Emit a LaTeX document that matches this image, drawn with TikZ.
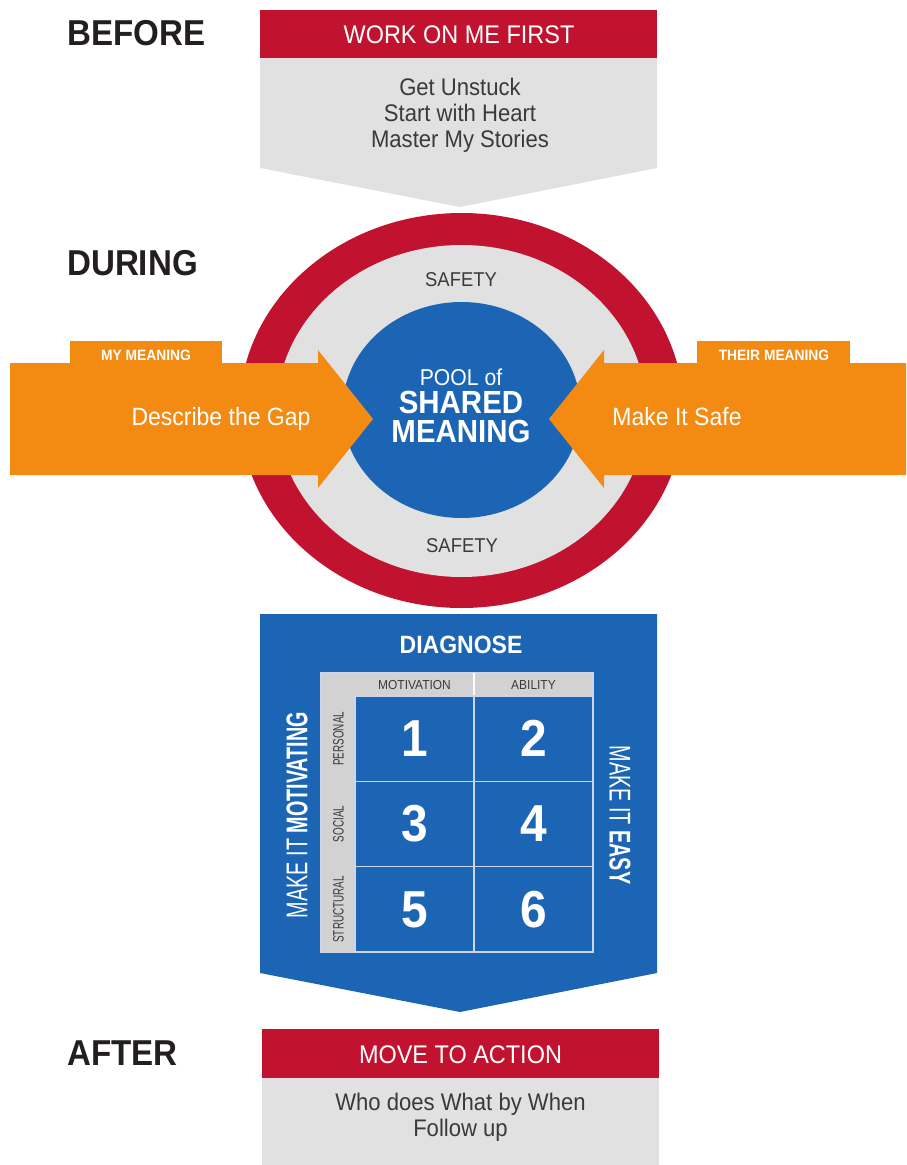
\documentclass[tikz,border=0pt]{standalone}
\usepackage{fontspec}
\setmainfont{Liberation Sans}[FakeStretch=0.92]
\newfontfamily\narrowfont{Liberation Sans}[FakeStretch=0.66]
\usetikzlibrary{positioning,calc}

\definecolor{talkred}{RGB}{193,19,47}
\definecolor{softgrey}{RGB}{225,225,225}
\definecolor{poolblue}{RGB}{28,101,181}
\definecolor{meanorange}{RGB}{243,139,19}
\definecolor{ink}{RGB}{35,31,32}
\definecolor{bodygrey}{RGB}{58,58,58}
\definecolor{headgrey}{RGB}{210,210,210}
\definecolor{cellline}{RGB}{205,214,232}

\newcommand{\fsz}[1]{\fontsize{#1}{#1}\selectfont}

\begin{document}
\begin{tikzpicture}[x=1pt,y=-1pt,
    stage/.style={anchor=base west,inner sep=0,text=ink,font=\bfseries\fsz{36}},
    banner/.style={anchor=base,inner sep=0,text=white,font=\fsz{25.5}},
    body/.style={anchor=base,inner sep=0,text=bodygrey,font=\fsz{24}},
    tab/.style={anchor=base,inner sep=0,text=white,font=\bfseries\fsz{15}},
    side/.style={anchor=base,inner sep=0,text=white,font=\fsz{25}},
    safety/.style={inner sep=0,text=bodygrey,font=\fsz{20}},
    axis/.style={inner sep=0,text=bodygrey,font=\fsz{13}},
    rowlab/.style={inner sep=0,text=bodygrey,font=\narrowfont\fsz{15},rotate=90},
    cell/.style={draw=cellline,line width=1.2pt,fill=poolblue,minimum width=119,
      minimum height=85.33,inner sep=0,text=white,font=\bfseries\fsz{52}},
    slogan/.style={inner sep=0,text=white,font=\narrowfont\fsz{30}}]
\useasboundingbox (0,0) rectangle (906,1165);

% before
\node[stage] (before) at (67,45) {BEFORE};
\fill[talkred] (260,10) rectangle (657,58);
\fill[softgrey] (260,58) -- (657,58) -- (657,168) -- (460,207) -- (260,168) -- cycle;
\node[banner] (workfirst) at (459,43) {WORK ON ME FIRST};
\node[body] (unstuck) at (460,95) {Get Unstuck};
\node[body] (heart) at (460,121) {Start with Heart};
\node[body] (stories) at (460,147) {Master My Stories};

% during
\node[stage] (during) at (67,275) {DURING};
\fill[talkred] (461.5,410.5) ellipse [x radius=222, y radius=197.5];
\fill[softgrey] (461.5,411) ellipse [x radius=185, y radius=166];
\fill[poolblue] (461.5,410) ellipse [x radius=119, y radius=108];
\node[safety] (safetytop) at (461,280) {SAFETY};
\node[safety] (safetybot) at (462,546) {SAFETY};

% my meaning / their meaning
\fill[meanorange] (70,341) rectangle (222,364);
\fill[meanorange] (10,363) -- (318,363) -- (318,350) -- (373,419) -- (318,488)
  -- (318,475) -- (10,475) -- cycle;
\fill[meanorange] (697,341) rectangle (850,364);
\fill[meanorange] (906,363) -- (604,363) -- (604,350) -- (549,419) -- (604,488)
  -- (604,475) -- (906,475) -- cycle;
\node[tab] (mymean) at (146,360) {MY MEANING};
\node[tab] (theirmean) at (774,360) {THEIR MEANING};
\node[side] (gap) at (221,425) {Describe the Gap};
\node[side] (safe) at (677,425) {Make It Safe};

% pool
\node[anchor=base,inner sep=0,text=white,font=\fsz{23}] (pool) at (461,385) {POOL of};
\node[anchor=base,inner sep=0,text=white,font=\bfseries\fsz{32}] (shared) at (461,413) {SHARED};
\node[anchor=base,inner sep=0,text=white,font=\bfseries\fsz{32}] (meaning) at (461,442) {MEANING};

% diagnose
\fill[poolblue] (260,614) -- (657,614) -- (657,973) -- (460,1012) -- (260,973) -- cycle;
\node[anchor=base,inner sep=0,text=white,font=\bfseries\fsz{25}] (diagnose) at (461,653) {DIAGNOSE};
\fill[headgrey] (321,673) rectangle (593,952);
\draw[cellline,line width=1.2pt] (321,673) rectangle (593,952);
\draw[white,line width=1.2pt] (474,673) -- (474,696);
\node[axis] (motiv) at (414.5,685) {MOTIVATION};
\node[axis] (abil) at (533.5,685) {ABILITY};
\foreach \r/\lab in {0/PERSONAL,1/SOCIAL,2/STRUCTURAL}{
  \node[rowlab] (row\r) at (338.5,{738.7+85.33*\r}) {\lab};
  \foreach \c in {0,1}{
    \pgfmathtruncatemacro\n{2*\r+\c+1}
    \node[cell] (cell\n) at ({414.5+119*\c},{738.7+85.33*\r}) {\n};
  }
}
\node[slogan,rotate=90] (motivating) at (297,815) {MAKE IT \textbf{MOTIVATING}};
\node[slogan,rotate=-90] (easy) at (620,815) {MAKE IT \textbf{EASY}};

% after
\node[stage] (after) at (67,1065) {AFTER};
\fill[talkred] (262,1029) rectangle (659,1078);
\fill[softgrey] (262,1078) rectangle (659,1165);
\node[banner] (action) at (460.5,1063) {MOVE TO ACTION};
\node[body] (who) at (460.5,1110) {Who does What by When};
\node[body] (follow) at (460.5,1136) {Follow up};
\end{tikzpicture}
\end{document}
